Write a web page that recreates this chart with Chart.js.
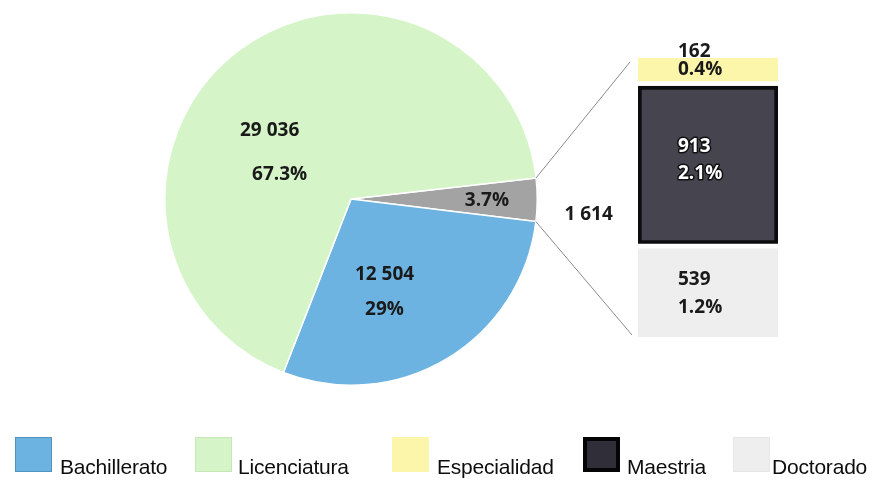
<!DOCTYPE html>
<html>
<head>
<meta charset="utf-8">
<script src="https://cdn.jsdelivr.net/npm/chart.js@4.4.1/dist/chart.umd.min.js"></script>
<style>
    html, body { margin: 0; padding: 0; background: #fff; }
    #wrap { position: relative; width: 881px; height: 481px; overflow: hidden; }
    canvas { position: absolute; }
    #pieChart { left: 161px; top: 9px; }
    #barChart { left: 638px; top: 38px; }
    #overlay { left: 0; top: 0; pointer-events: none; }
    .legend-box { position: absolute; top: 437px; width: 37px; height: 35px; box-sizing: border-box; }
    .legend-label { position: absolute; top: 456px; font: 21px/21px "Liberation Sans", sans-serif; color: #0d0d0d; white-space: nowrap; letter-spacing: -0.2px; }
</style>
</head>
<body>
<div id="wrap">
    <canvas id="pieChart" width="380" height="380"></canvas>
    <canvas id="barChart" width="140" height="299"></canvas>
    <canvas id="overlay" width="881" height="481"></canvas>
    <div id="legend"></div>
</div>
<script>
// Data
const mainCategories = ['Bachillerato', 'Licenciatura'];
const mainValues = [12504, 29036];
const postgradCategories = ['Especialidad', 'Maestria', 'Doctorado'];
const postgradValues = [162, 913, 539];

// Colours
const mainColors = ['#6cb3e1', '#d5f4c7'];
const postgradSliceColor = '#a3a3a3';
const postgradColors = ['#fbf6a9', '#45444f', '#eeeeee'];

const postgradTotal = postgradValues.reduce((a, b) => a + b, 0);
const grandTotal = mainValues.reduce((a, b) => a + b, 0) + postgradTotal;

const fmtNum = n => String(n).replace(/\B(?=(\d{3})+(?!\d))/g, ' ');
const fmtPct = n => (n / grandTotal * 100).toFixed(1).replace(/\.0$/, '') + '%';

const labelFont = 'bold 19px "Open Sans", sans-serif';

// Pie labels (offsets relative to radius)
const pieLabelLayout = [
    { dx: 0.73, dy: 0.01, gap: 0, pctOnly: true },   // posgrado slice
    { dx: 0.18, dy: 0.50, gap: 35 },                 // Bachillerato
    { dx: -0.41, dy: -0.25, gap: 44, shift: 5 }      // Licenciatura
];

const pieLabelPlugin = {
    id: 'pieLabels',
    afterDatasetsDraw(chart) {
        const ctx = chart.ctx;
        const values = chart.data.datasets[0].data;
        ctx.save();
        ctx.font = labelFont;
        ctx.fillStyle = '#1a1a1a';
        ctx.textAlign = 'center';
        ctx.textBaseline = 'middle';
        chart.getDatasetMeta(0).data.forEach((arc, i) => {
            const l = pieLabelLayout[i];
            const cx = arc.x + l.dx * arc.outerRadius;
            const cy = arc.y + l.dy * arc.outerRadius;
            if (l.pctOnly) {
                ctx.fillText(fmtPct(values[i]), cx, cy);
            } else {
                const s = l.shift || 0;
                ctx.fillText(fmtNum(values[i]), cx - s, cy - l.gap / 2);
                ctx.fillText(fmtPct(values[i]), cx + s, cy + l.gap / 2);
            }
        });
        ctx.restore();
    }
};

const pieChart = new Chart(document.getElementById('pieChart'), {
    type: 'pie',
    data: {
        labels: ['Posgrado', ...mainCategories],
        datasets: [{
            data: [postgradTotal, ...mainValues],
            backgroundColor: [postgradSliceColor, ...mainColors],
            borderColor: '#ffffff',
            borderWidth: 1.5
        }]
    },
    options: {
        responsive: false,
        animation: false,
        rotation: 83.5,
        layout: { padding: 3 },
        plugins: { legend: { display: false }, tooltip: { enabled: false } }
    },
    plugins: [pieLabelPlugin]
});

// Bar labels (stacked bottom to top: Doctorado, Maestria, Especialidad)
const barOrder = [2, 1, 0];
const barLabelLayout = {
    0: { dy: -11, gap: 18, color: '#1a1a1a' },
    1: { dy: -5, gap: 27, color: '#ffffff', outline: true },
    2: { dy: 3, gap: 28, color: '#1a1a1a' }
};
const barStyles = {
    0: { borderColor: '#ffffff', borderWidth: { bottom: 5 } },
    1: { borderColor: '#0c0c0f', borderWidth: 4 },
    2: { borderColor: '#ffffff', borderWidth: { top: 5 } }
};

const barLabelPlugin = {
    id: 'barLabels',
    afterDatasetsDraw(chart) {
        const ctx = chart.ctx;
        ctx.save();
        ctx.font = labelFont;
        ctx.textAlign = 'left';
        ctx.textBaseline = 'middle';
        chart.data.datasets.forEach((ds, di) => {
            const idx = barOrder[di];
            const l = barLabelLayout[idx];
            const bar = chart.getDatasetMeta(di).data[0];
            const x = bar.x - 30;
            const cy = (bar.y + bar.base) / 2 + l.dy;
            const lines = [fmtNum(postgradValues[idx]), fmtPct(postgradValues[idx])];
            lines.forEach((t, k) => {
                const y = cy + (k === 0 ? -l.gap / 2 : l.gap / 2);
                if (l.outline) {
                    ctx.lineWidth = 3;
                    ctx.strokeStyle = '#111';
                    ctx.lineJoin = 'round';
                    ctx.strokeText(t, x, y);
                }
                ctx.fillStyle = l.color;
                ctx.fillText(t, x, y);
            });
        });
        ctx.restore();
    }
};

const barChart = new Chart(document.getElementById('barChart'), {
    type: 'bar',
    data: {
        labels: [''],
        datasets: barOrder.map(idx => ({
            label: postgradCategories[idx],
            data: [postgradValues[idx]],
            backgroundColor: postgradColors[idx],
            borderColor: barStyles[idx].borderColor,
            borderWidth: barStyles[idx].borderWidth,
            borderSkipped: false,
            barPercentage: 1,
            categoryPercentage: 1
        }))
    },
    options: {
        responsive: false,
        animation: false,
        layout: { padding: { top: 20 } },
        scales: {
            x: { stacked: true, display: false },
            y: { stacked: true, display: false, min: 0, max: postgradTotal }
        },
        plugins: { legend: { display: false }, tooltip: { enabled: false } }
    },
    plugins: [barLabelPlugin]
});

// Connector lines and subtotal
function drawOverlay() {
    const pieCanvas = document.getElementById('pieChart');
    const barCanvas = document.getElementById('barChart');
    const ctx = document.getElementById('overlay').getContext('2d');
    const arc = pieChart.getDatasetMeta(0).data[0];
    const px = pieCanvas.offsetLeft, py = pieCanvas.offsetTop;
    const bx = barCanvas.offsetLeft, by = barCanvas.offsetTop;
    const topBar = barChart.getDatasetMeta(2).data[0];
    const bottomBar = barChart.getDatasetMeta(0).data[0];
    const barLeft = bx + topBar.x - topBar.width / 2;
    const r = arc.outerRadius;

    const start = [px + arc.x + r * Math.cos(arc.startAngle), py + arc.y + r * Math.sin(arc.startAngle)];
    const end = [px + arc.x + r * Math.cos(arc.endAngle), py + arc.y + r * Math.sin(arc.endAngle)];

    ctx.strokeStyle = '#8a8a8a';
    ctx.lineWidth = 1;
    ctx.beginPath();
    ctx.moveTo(start[0], start[1]);
    ctx.lineTo(barLeft - 8, by + topBar.y + 4);
    ctx.moveTo(end[0], end[1]);
    ctx.lineTo(barLeft - 6, by + bottomBar.base - 2);
    ctx.stroke();

    ctx.font = labelFont;
    ctx.fillStyle = '#1a1a1a';
    ctx.textAlign = 'center';
    ctx.textBaseline = 'middle';
    ctx.fillText(fmtNum(postgradTotal), (px + arc.x + r + barLeft) / 2 + 1, py + arc.y + 16);
}
drawOverlay();

// Legend
const legendBoxX = [15, 195, 392, 583, 733];
const legendTextX = [60, 238, 437, 627, 772];
const legendBorders = ['#4f93c0', '#c6e8b6', '#fbf6a9', '#050507', '#e6e6e6'];
const legendFill = [...mainColors, postgradColors[0], '#2f2e39', postgradColors[2]];
const legendEl = document.getElementById('legend');
[...mainCategories, ...postgradCategories].forEach((name, i) => {
    const box = document.createElement('div');
    box.className = 'legend-box';
    box.style.left = legendBoxX[i] + 'px';
    box.style.background = legendFill[i];
    box.style.border = (i === 3 ? 4 : 1) + 'px solid ' + legendBorders[i];
    legendEl.appendChild(box);
    const label = document.createElement('div');
    label.className = 'legend-label';
    label.style.left = legendTextX[i] + 'px';
    label.textContent = name;
    legendEl.appendChild(label);
});
</script>
</body>
</html>
